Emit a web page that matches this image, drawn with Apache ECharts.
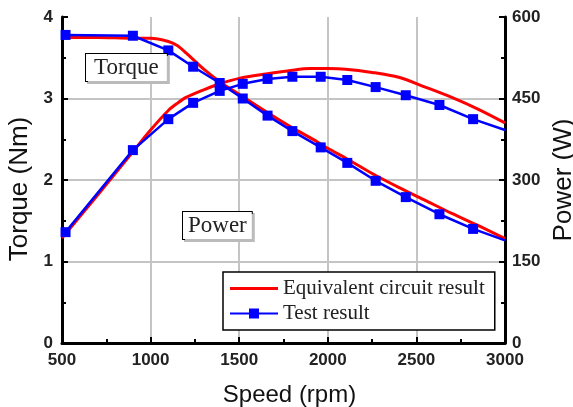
<!DOCTYPE html>
<html>
<head>
<meta charset="utf-8">
<script src="https://cdn.jsdelivr.net/npm/echarts@6/dist/echarts.min.js"></script>
<style>
  html, body { margin: 0; padding: 0; background: #fff; }
  #chart { width: 573px; height: 407px; }
</style>
</head>
<body>
<div id="chart"></div>
<script>
// equivalent circuit (calculated) curves
const eqSpeed = [500, 700, 900, 1000, 1100, 1150, 1200, 1300, 1400, 1500, 1650, 1800, 1900, 2000, 2100, 2250, 2400, 2550, 2700, 2850, 3000]
const eqTorque = [3.75, 3.75, 3.74, 3.74, 3.70, 3.65, 3.56, 3.36, 3.19, 3.05, 2.84, 2.64, 2.52, 2.39, 2.27, 2.08, 1.91, 1.75, 1.59, 1.44, 1.28]
const eqPower = [193, 272, 352, 392, 428, 441, 452, 466, 478, 487, 495, 502, 505, 505, 504, 498, 489, 471, 452, 430, 405]

// measured points
const testSpeed = [520, 900, 1100, 1240, 1390, 1520, 1660, 1800, 1960, 2110, 2270, 2440, 2630, 2820, 3000]
const testTorque = [3.78, 3.77, 3.59, 3.39, 3.19, 3.0, 2.79, 2.6, 2.4, 2.21, 1.99, 1.79, 1.58, 1.4, 1.26]
const testPower = [204, 355, 412, 442, 464, 477, 486, 490, 490, 484, 471, 456, 438, 412, 392]

const torqueTicks = [0, 1, 2, 3, 4]
const powerTicks = [0, 150, 300, 450, 600]
const speedTicks = [500, 1000, 1500, 2000, 2500, 3000]

const eqName = 'Equivalent circuit result'
const testName = 'Test result'

const pair = (xs, ys) => xs.map((x, i) => [x, ys[i]])
// last measured point has no marker in the figure
const testSymbol = (val, params) => (params.dataIndex === testSpeed.length - 1 ? 'none' : 'rect')

const sansFont = '"Liberation Sans", Arial, sans-serif'
const serifFont = '"Liberation Serif", "Times New Roman", serif'

const tickLabel = {
  fontFamily: sansFont,
  fontSize: 17,
  fontWeight: 'bold',
  color: '#222',
  formatter: v => String(v)
}
const axisName = {
  fontFamily: sansFont,
  fontSize: 24,
  color: '#111'
}
const axisLine = { show: true, lineStyle: { color: '#000', width: 3 } }
const axisTick = { show: true, inside: true, length: 6, lineStyle: { color: '#000', width: 2 } }
const minorTick = { show: true, splitNumber: 2, length: 4, lineStyle: { color: '#000', width: 2 } }
const gridLine = { show: true, showMinLine: false, showMaxLine: false, lineStyle: { color: '#c4c4c4', width: 2 } }

// helper axes only carry the grey grid lines, drawn under the ticks
const helperAxis = {
  z: 0,
  axisTick: { show: false },
  axisLabel: { show: false },
  splitLine: gridLine
}

const chart = echarts.init(document.getElementById('chart'))

chart.setOption({
  animation: false,
  grid: {
    left: 62,
    right: 68,
    top: 17,
    bottom: 64,
    outerBoundsMode: 'none',
    containLabel: false
  },
  legend: {
    orient: 'vertical',
    left: 223,
    top: 272,
    data: [
      { name: eqName, icon: 'path://M0 3.5H48V6.5H0Z' },
      { name: testName, icon: 'path://M0 4H19V0H29V4H48V6H29V10H19V6H0Z' }
    ],
    itemWidth: 48,
    itemHeight: 10,
    itemGap: 4,
    padding: [6, 10, 6, 7],
    borderColor: '#000',
    borderWidth: 1.5,
    backgroundColor: '#fff',
    textStyle: { fontFamily: serifFont, fontSize: 21, color: '#222' }
  },
  xAxis: [
    {
      type: 'value',
      z: 1,
      min: speedTicks[0],
      max: speedTicks[speedTicks.length - 1],
      interval: 500,
      name: 'Speed (rpm)',
      nameLocation: 'middle',
      nameGap: 40,
      nameTextStyle: Object.assign({ padding: [0, 0, 0, 12] }, axisName),
      axisLine: axisLine,
      axisTick: axisTick,
      minorTick: minorTick,
      axisLabel: Object.assign({ margin: 9 }, tickLabel),
      splitLine: { show: false }
    },
    Object.assign({
      type: 'value',
      position: 'top',
      min: speedTicks[0],
      max: speedTicks[speedTicks.length - 1],
      interval: 500,
      axisLine: { show: true, lineStyle: { color: '#000', width: 2 } }
    }, helperAxis)
  ],
  yAxis: [
    {
      type: 'value',
      z: 1,
      min: torqueTicks[0],
      max: torqueTicks[torqueTicks.length - 1],
      interval: 1,
      name: 'Torque (Nm)',
      nameLocation: 'middle',
      nameGap: 27,
      nameTextStyle: Object.assign({}, axisName, { fontSize: 26, padding: [0, 18, 0, 0] }),
      axisLine: axisLine,
      axisTick: axisTick,
      minorTick: minorTick,
      axisLabel: Object.assign({ margin: 9 }, tickLabel),
      splitLine: { show: false }
    },
    {
      type: 'value',
      z: 1,
      position: 'right',
      min: powerTicks[0],
      max: powerTicks[powerTicks.length - 1],
      interval: 150,
      name: 'Power (W)',
      nameLocation: 'middle',
      nameGap: 42,
      nameTextStyle: Object.assign({}, axisName, { fontSize: 26 }),
      axisLine: axisLine,
      axisTick: axisTick,
      minorTick: minorTick,
      axisLabel: Object.assign({ margin: 7 }, tickLabel),
      splitLine: { show: false }
    },
    Object.assign({
      type: 'value',
      position: 'left',
      min: torqueTicks[0],
      max: torqueTicks[torqueTicks.length - 1],
      interval: 1,
      axisLine: { show: false }
    }, helperAxis)
  ],
  graphic: [
    {
      type: 'text',
      left: 85,
      top: 53,
      z: 100,
      style: {
        text: 'Torque',
        font: '23px ' + serifFont,
        fill: '#222',
        backgroundColor: '#fff',
        borderColor: '#000',
        borderWidth: 1,
        padding: [2, 8, 2, 8],
        shadowColor: '#bbb',
        shadowOffsetX: 2,
        shadowOffsetY: 2
      }
    },
    {
      type: 'text',
      left: 182,
      top: 211,
      z: 100,
      style: {
        text: 'Power',
        font: '23px ' + serifFont,
        fill: '#222',
        backgroundColor: '#fff',
        borderColor: '#000',
        borderWidth: 1,
        padding: [2, 5, 2, 5],
        shadowColor: '#bbb',
        shadowOffsetX: 2,
        shadowOffsetY: 2
      }
    }
  ],
  series: [
    {
      name: eqName,
      type: 'line',
      yAxisIndex: 0,
      data: pair(eqSpeed, eqTorque),
      smooth: 0.3,
      symbol: 'none',
      lineStyle: { color: '#ff0000', width: 3 },
      itemStyle: { color: '#ff0000' }
    },
    {
      name: eqName,
      type: 'line',
      yAxisIndex: 1,
      data: pair(eqSpeed, eqPower),
      smooth: 0.3,
      symbol: 'none',
      lineStyle: { color: '#ff0000', width: 3 },
      itemStyle: { color: '#ff0000' }
    },
    {
      name: testName,
      type: 'line',
      yAxisIndex: 0,
      data: pair(testSpeed, testTorque),
      symbol: testSymbol,
      symbolSize: 10,
      lineStyle: { color: '#0000ff', width: 2.5 },
      itemStyle: { color: '#0000ff' }
    },
    {
      name: testName,
      type: 'line',
      yAxisIndex: 1,
      data: pair(testSpeed, testPower),
      symbol: testSymbol,
      symbolSize: 10,
      lineStyle: { color: '#0000ff', width: 2.5 },
      itemStyle: { color: '#0000ff' }
    }
  ]
})
</script>
</body>
</html>
